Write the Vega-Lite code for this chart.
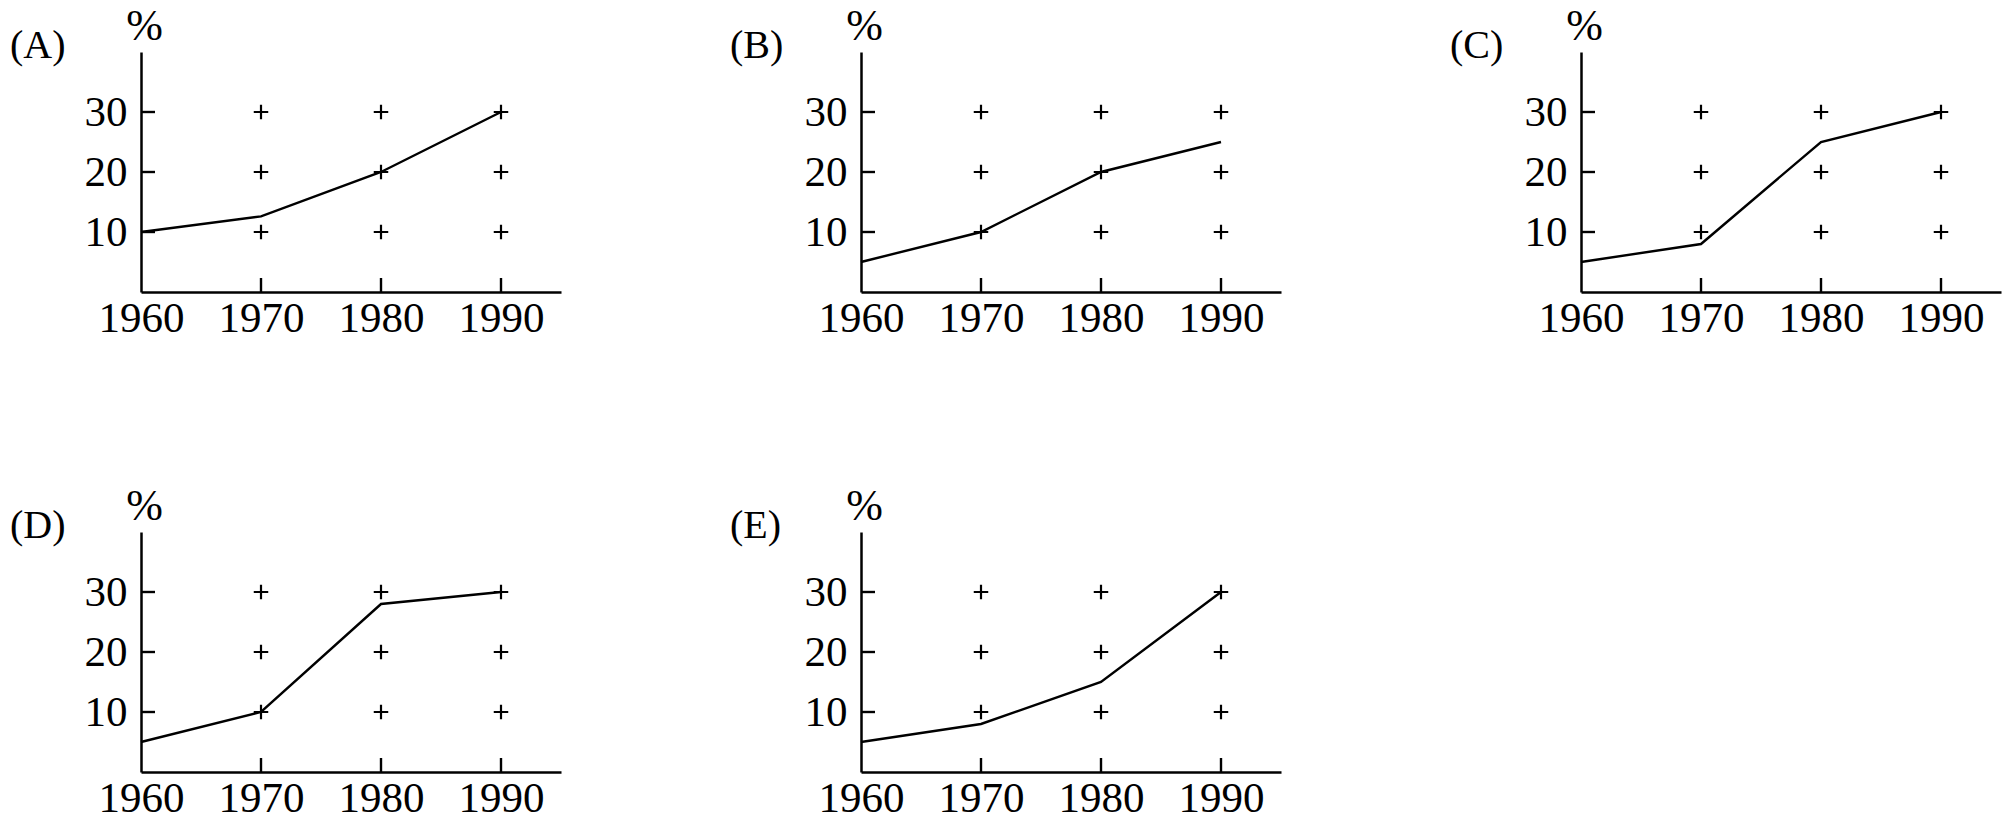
{
  "$schema": "https://vega.github.io/schema/vega-lite/v6.json",
  "background": "white",
  "padding": {"left": 10, "top": 4, "right": 5, "bottom": 5},
  "columns": 3,
  "spacing": {"row": 240, "column": 300},
  "bounds": "flush",
  "datasets": {
    "grid": [
      {"year": 1970, "pct": 10}, {"year": 1970, "pct": 20}, {"year": 1970, "pct": 30},
      {"year": 1980, "pct": 10}, {"year": 1980, "pct": 20}, {"year": 1980, "pct": 30},
      {"year": 1990, "pct": 10}, {"year": 1990, "pct": 20}, {"year": 1990, "pct": 30}
    ],
    "ticks": [
      {"axis": "x", "year": 1970, "pct": 0}, {"axis": "x", "year": 1980, "pct": 0}, {"axis": "x", "year": 1990, "pct": 0},
      {"axis": "y", "year": 1960, "pct": 10}, {"axis": "y", "year": 1960, "pct": 20}, {"axis": "y", "year": 1960, "pct": 30}
    ],
    "series": [
      {"panel": "A", "year": 1960, "pct": 10}, {"panel": "A", "year": 1970, "pct": 12.6},
      {"panel": "A", "year": 1980, "pct": 20}, {"panel": "A", "year": 1990, "pct": 30},
      {"panel": "B", "year": 1960, "pct": 5}, {"panel": "B", "year": 1970, "pct": 10},
      {"panel": "B", "year": 1980, "pct": 20}, {"panel": "B", "year": 1990, "pct": 25},
      {"panel": "C", "year": 1960, "pct": 5}, {"panel": "C", "year": 1970, "pct": 8},
      {"panel": "C", "year": 1980, "pct": 25}, {"panel": "C", "year": 1990, "pct": 30},
      {"panel": "D", "year": 1960, "pct": 5}, {"panel": "D", "year": 1970, "pct": 10},
      {"panel": "D", "year": 1980, "pct": 28}, {"panel": "D", "year": 1990, "pct": 30},
      {"panel": "E", "year": 1960, "pct": 5}, {"panel": "E", "year": 1970, "pct": 8},
      {"panel": "E", "year": 1980, "pct": 15}, {"panel": "E", "year": 1990, "pct": 30}
    ]
  },
  "concat": [
    {
      "width": 420, "height": 240, "title": "(A)",
      "layer": [
        {"data": {"name": "grid"},
         "mark": {"type": "point", "shape": "M-1,0H1M0,-1V1", "size": 210, "filled": false, "color": "black", "strokeWidth": 2.2, "opacity": 1},
         "encoding": {
           "x": {"field": "year", "type": "quantitative", "scale": {"domain": [1960, 1995], "nice": false, "zero": false}, "axis": {"values": [1960, 1970, 1980, 1990], "format": "d", "title": null}},
           "y": {"field": "pct", "type": "quantitative", "scale": {"domain": [0, 40], "nice": false}, "axis": {"values": [10, 20, 30], "title": "%"}}}},
        {"data": {"name": "ticks"},
         "mark": {"type": "point", "size": 196, "filled": false, "color": "black", "strokeWidth": 2.4, "opacity": 1},
         "encoding": {"x": {"field": "year", "type": "quantitative"}, "y": {"field": "pct", "type": "quantitative"},
           "shape": {"field": "axis", "type": "nominal", "scale": {"domain": ["x", "y"], "range": ["M0,0V-2", "M0,0H2"]}, "legend": null}}},
        {"data": {"name": "series"}, "transform": [{"filter": "datum.panel == 'A'"}],
         "mark": {"type": "line", "color": "black", "strokeWidth": 2.4},
         "encoding": {"x": {"field": "year", "type": "quantitative"}, "y": {"field": "pct", "type": "quantitative"}}}
      ]
    },
    {
      "width": 420, "height": 240, "title": "(B)",
      "layer": [
        {"data": {"name": "grid"},
         "mark": {"type": "point", "shape": "M-1,0H1M0,-1V1", "size": 210, "filled": false, "color": "black", "strokeWidth": 2.2, "opacity": 1},
         "encoding": {
           "x": {"field": "year", "type": "quantitative", "scale": {"domain": [1960, 1995], "nice": false, "zero": false}, "axis": {"values": [1960, 1970, 1980, 1990], "format": "d", "title": null}},
           "y": {"field": "pct", "type": "quantitative", "scale": {"domain": [0, 40], "nice": false}, "axis": {"values": [10, 20, 30], "title": "%"}}}},
        {"data": {"name": "ticks"},
         "mark": {"type": "point", "size": 196, "filled": false, "color": "black", "strokeWidth": 2.4, "opacity": 1},
         "encoding": {"x": {"field": "year", "type": "quantitative"}, "y": {"field": "pct", "type": "quantitative"},
           "shape": {"field": "axis", "type": "nominal", "scale": {"domain": ["x", "y"], "range": ["M0,0V-2", "M0,0H2"]}, "legend": null}}},
        {"data": {"name": "series"}, "transform": [{"filter": "datum.panel == 'B'"}],
         "mark": {"type": "line", "color": "black", "strokeWidth": 2.4},
         "encoding": {"x": {"field": "year", "type": "quantitative"}, "y": {"field": "pct", "type": "quantitative"}}}
      ]
    },
    {
      "width": 420, "height": 240, "title": "(C)",
      "layer": [
        {"data": {"name": "grid"},
         "mark": {"type": "point", "shape": "M-1,0H1M0,-1V1", "size": 210, "filled": false, "color": "black", "strokeWidth": 2.2, "opacity": 1},
         "encoding": {
           "x": {"field": "year", "type": "quantitative", "scale": {"domain": [1960, 1995], "nice": false, "zero": false}, "axis": {"values": [1960, 1970, 1980, 1990], "format": "d", "title": null}},
           "y": {"field": "pct", "type": "quantitative", "scale": {"domain": [0, 40], "nice": false}, "axis": {"values": [10, 20, 30], "title": "%"}}}},
        {"data": {"name": "ticks"},
         "mark": {"type": "point", "size": 196, "filled": false, "color": "black", "strokeWidth": 2.4, "opacity": 1},
         "encoding": {"x": {"field": "year", "type": "quantitative"}, "y": {"field": "pct", "type": "quantitative"},
           "shape": {"field": "axis", "type": "nominal", "scale": {"domain": ["x", "y"], "range": ["M0,0V-2", "M0,0H2"]}, "legend": null}}},
        {"data": {"name": "series"}, "transform": [{"filter": "datum.panel == 'C'"}],
         "mark": {"type": "line", "color": "black", "strokeWidth": 2.4},
         "encoding": {"x": {"field": "year", "type": "quantitative"}, "y": {"field": "pct", "type": "quantitative"}}}
      ]
    },
    {
      "width": 420, "height": 240, "title": "(D)",
      "layer": [
        {"data": {"name": "grid"},
         "mark": {"type": "point", "shape": "M-1,0H1M0,-1V1", "size": 210, "filled": false, "color": "black", "strokeWidth": 2.2, "opacity": 1},
         "encoding": {
           "x": {"field": "year", "type": "quantitative", "scale": {"domain": [1960, 1995], "nice": false, "zero": false}, "axis": {"values": [1960, 1970, 1980, 1990], "format": "d", "title": null}},
           "y": {"field": "pct", "type": "quantitative", "scale": {"domain": [0, 40], "nice": false}, "axis": {"values": [10, 20, 30], "title": "%"}}}},
        {"data": {"name": "ticks"},
         "mark": {"type": "point", "size": 196, "filled": false, "color": "black", "strokeWidth": 2.4, "opacity": 1},
         "encoding": {"x": {"field": "year", "type": "quantitative"}, "y": {"field": "pct", "type": "quantitative"},
           "shape": {"field": "axis", "type": "nominal", "scale": {"domain": ["x", "y"], "range": ["M0,0V-2", "M0,0H2"]}, "legend": null}}},
        {"data": {"name": "series"}, "transform": [{"filter": "datum.panel == 'D'"}],
         "mark": {"type": "line", "color": "black", "strokeWidth": 2.4},
         "encoding": {"x": {"field": "year", "type": "quantitative"}, "y": {"field": "pct", "type": "quantitative"}}}
      ]
    },
    {
      "width": 420, "height": 240, "title": "(E)",
      "layer": [
        {"data": {"name": "grid"},
         "mark": {"type": "point", "shape": "M-1,0H1M0,-1V1", "size": 210, "filled": false, "color": "black", "strokeWidth": 2.2, "opacity": 1},
         "encoding": {
           "x": {"field": "year", "type": "quantitative", "scale": {"domain": [1960, 1995], "nice": false, "zero": false}, "axis": {"values": [1960, 1970, 1980, 1990], "format": "d", "title": null}},
           "y": {"field": "pct", "type": "quantitative", "scale": {"domain": [0, 40], "nice": false}, "axis": {"values": [10, 20, 30], "title": "%"}}}},
        {"data": {"name": "ticks"},
         "mark": {"type": "point", "size": 196, "filled": false, "color": "black", "strokeWidth": 2.4, "opacity": 1},
         "encoding": {"x": {"field": "year", "type": "quantitative"}, "y": {"field": "pct", "type": "quantitative"},
           "shape": {"field": "axis", "type": "nominal", "scale": {"domain": ["x", "y"], "range": ["M0,0V-2", "M0,0H2"]}, "legend": null}}},
        {"data": {"name": "series"}, "transform": [{"filter": "datum.panel == 'E'"}],
         "mark": {"type": "line", "color": "black", "strokeWidth": 2.4},
         "encoding": {"x": {"field": "year", "type": "quantitative"}, "y": {"field": "pct", "type": "quantitative"}}}
      ]
    }
  ],
  "config": {
    "view": {"stroke": null},
    "font": "Liberation Serif",
    "axis": {
      "grid": false,
      "ticks": false,
      "domainColor": "black",
      "domainWidth": 2.5,
      "labelColor": "black",
      "labelFont": "Liberation Serif",
      "labelFontSize": 43,
      "labelFlush": false,
      "labelOverlap": false
    },
    "axisX": {"labelBaseline": "top", "labelPadding": 5},
    "axisY": {
      "labelAlign": "right",
      "labelBaseline": "middle",
      "labelPadding": 14,
      "titleAngle": 0,
      "titleX": 3,
      "titleY": -26,
      "titleAlign": "center",
      "titleBaseline": "middle",
      "titleFont": "Liberation Serif",
      "titleFontSize": 44,
      "titleFontWeight": "normal",
      "titleColor": "black"
    },
    "title": {
      "font": "Liberation Serif",
      "fontSize": 40,
      "fontWeight": "normal",
      "color": "black",
      "anchor": "start",
      "dx": -74,
      "dy": 66
    }
  }
}
